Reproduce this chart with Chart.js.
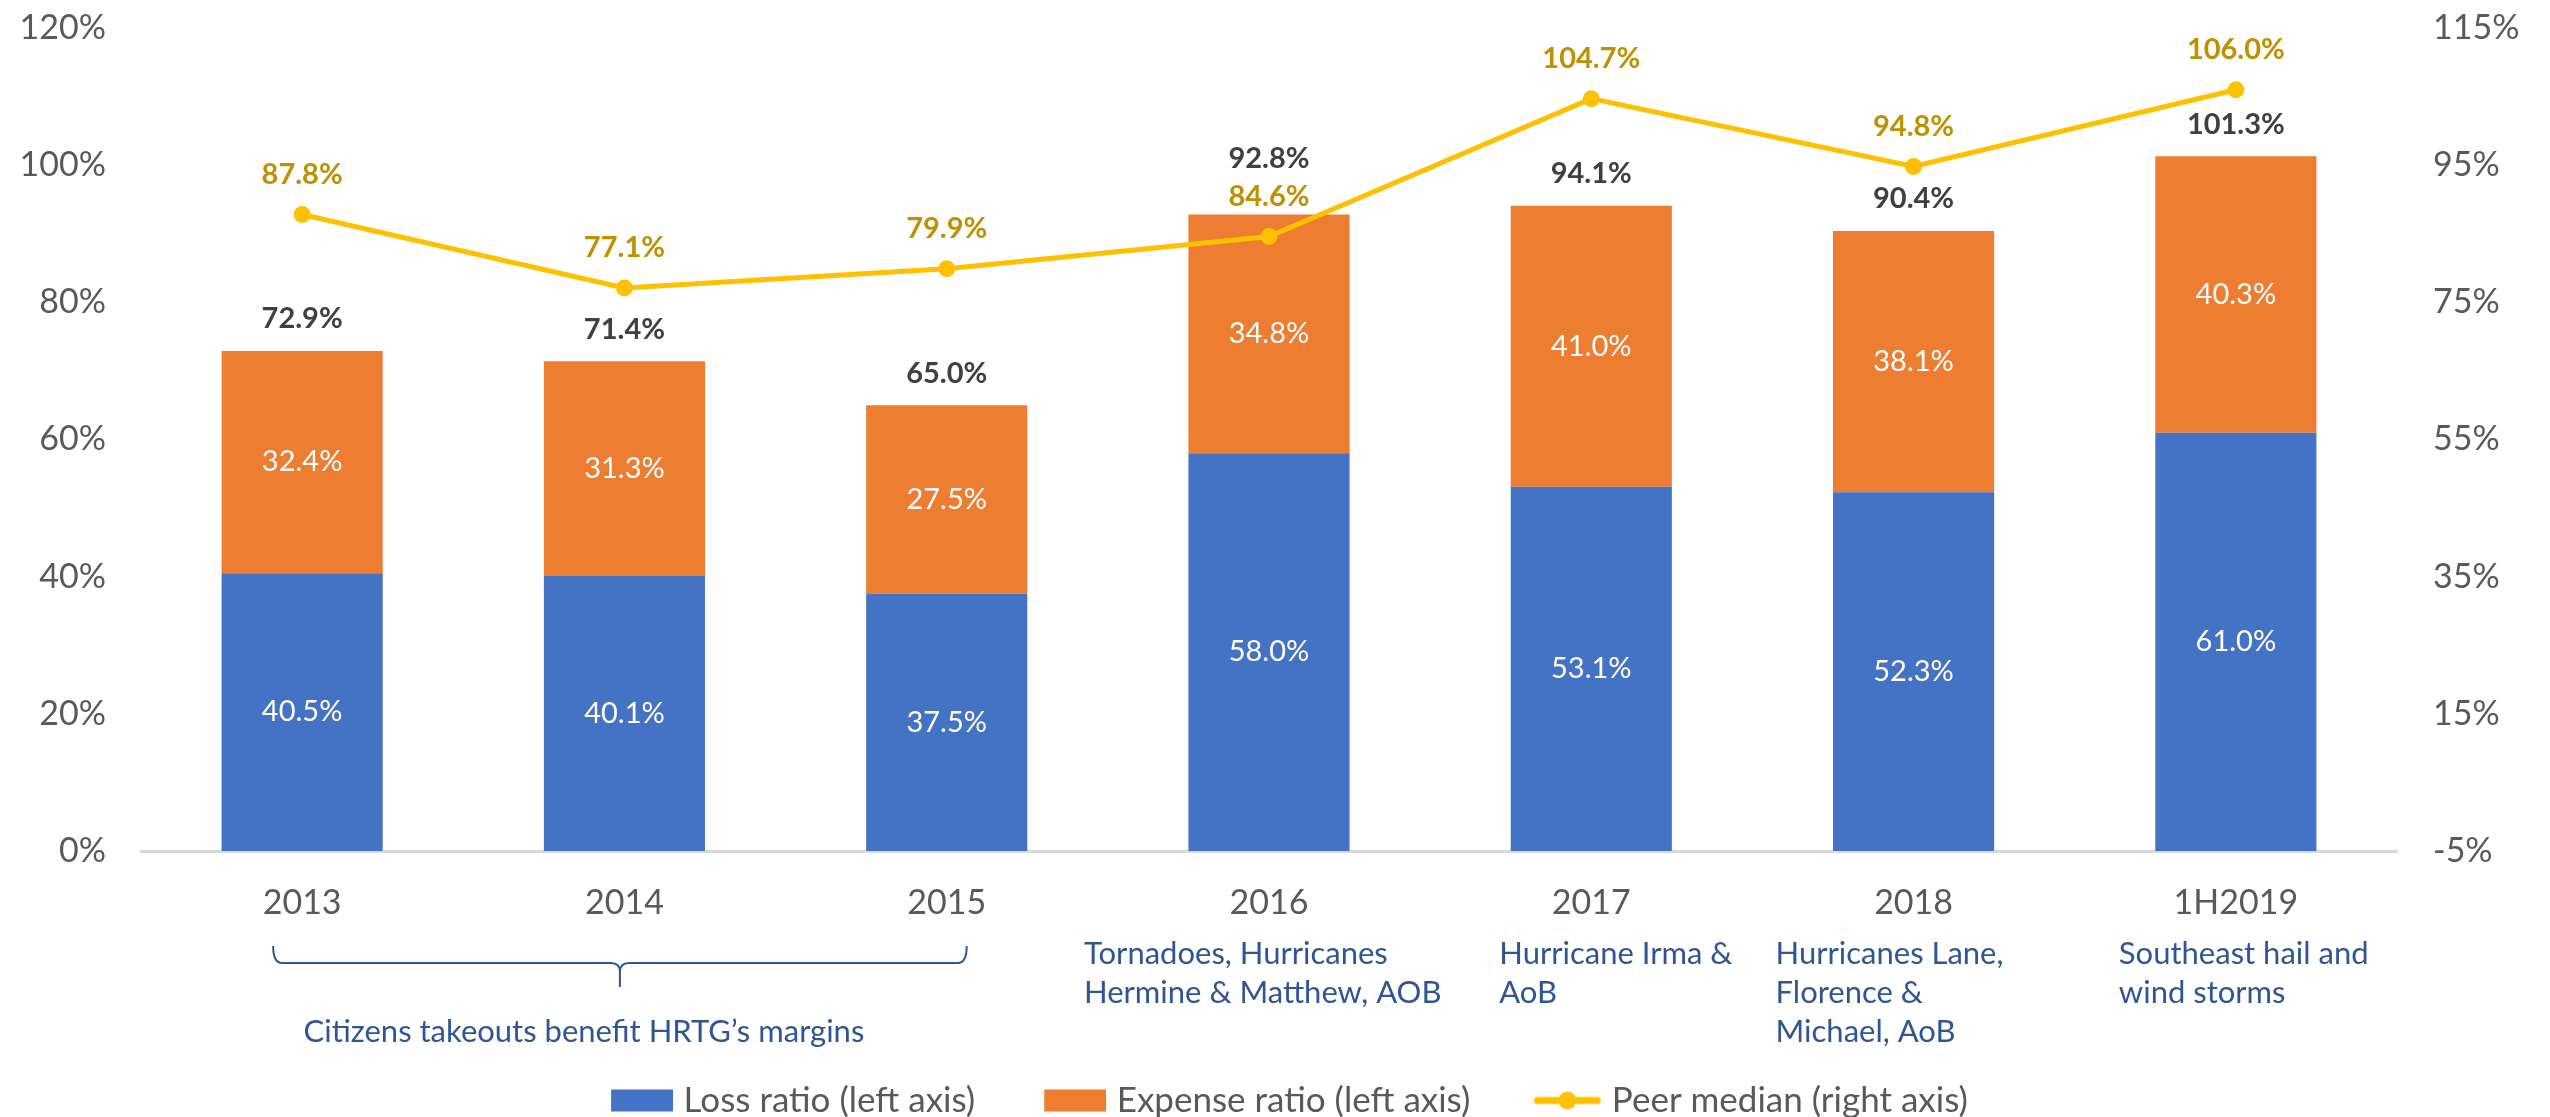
<!DOCTYPE html>
<html>
<head>
<meta charset="utf-8">
<script src="https://cdn.jsdelivr.net/npm/chart.js@4"></script>
<style>
  html, body { margin: 0; padding: 0; background: #ffffff; }
  #c { display: block; }
</style>
</head>
<body>
<canvas id="c" width="2550" height="1117"></canvas>
<script>
// ---- data ----
const categories   = ['2013', '2014', '2015', '2016', '2017', '2018', '1H2019'];
const lossRatio    = [40.5, 40.1, 37.5, 58.0, 53.1, 52.3, 61.0];
const expenseRatio = [32.4, 31.3, 27.5, 34.8, 41.0, 38.1, 40.3];
const totalLabels  = [72.9, 71.4, 65.0, 92.8, 94.1, 90.4, 101.3];
const peerMedian   = [87.8, 77.1, 79.9, 84.6, 104.7, 94.8, 106.0];
const leftTicks    = [0, 20, 40, 60, 80, 100, 120];
const rightTicks   = [-5, 15, 35, 55, 75, 95, 115];
const seriesNames  = ['Loss ratio (left axis)', 'Expense ratio (left axis)', 'Peer median (right axis)'];
const braceText    = 'Citizens takeouts benefit HRTG\u2019s margins';
const eventNotes   = [
  null, null, null,
  ['Tornadoes, Hurricanes', 'Hermine & Matthew, AOB'],
  ['Hurricane Irma &', 'AoB'],
  ['Hurricanes Lane,', 'Florence &', 'Michael, AoB'],
  ['Southeast hail and', 'wind storms']
];

// ---- styling / layout ----
const FONT = 'Lato, "Open Sans", sans-serif';
const BLUE = '#4472C4', ORANGE = '#ED7D31', GOLD = '#FFC000';
const NOTE_COLOR = '#2F5597';
const noteOffsets = [0, 0, 0, -185, -92, -138, -117];
const LEGEND_BOX = 122;
const LEGEND_SHIFT = -19;

function makeMarker(kind, color) {
  const W = LEGEND_BOX + 14, H = 26;
  const cv = document.createElement('canvas');
  cv.width = W; cv.height = H;
  const g = cv.getContext('2d');
  g.fillStyle = color; g.strokeStyle = color;
  if (kind === 'rect') {
    g.fillRect(W - 62, 2, 62, 22);
  } else {
    g.lineWidth = 7; g.lineCap = 'round';
    g.beginPath(); g.moveTo(W - 64, H / 2); g.lineTo(W - 4, H / 2); g.stroke();
    g.beginPath(); g.arc(W - 34, H / 2, 9, 0, Math.PI * 2); g.fill();
  }
  return cv;
}
const markers = [makeMarker('rect', BLUE), makeMarker('rect', ORANGE), makeMarker('line', GOLD)];

const legendShift = {
  id: 'legendShift',
  afterLayout(chart) {
    if (chart.legend) {
      chart.legend.left += LEGEND_SHIFT;
      chart.legend.right += LEGEND_SHIFT;
    }
  }
};

const valueLabels = {
  id: 'valueLabels',
  afterDatasetsDraw(chart) {
    const ctx = chart.ctx;
    ctx.save();
    ctx.textAlign = 'center';
    ctx.textBaseline = 'middle';
    [0, 1].forEach(di => {
      const meta = chart.getDatasetMeta(di);
      const vals = chart.data.datasets[di].data;
      meta.data.forEach((bar, i) => {
        ctx.font = '29px ' + FONT;
        ctx.fillStyle = '#FFFFFF';
        ctx.fillText(vals[i].toFixed(1) + '%', bar.x, (bar.y + bar.base) / 2);
      });
    });
    const lm = chart.getDatasetMeta(2);
    const peerY = [];
    lm.data.forEach((pt, i) => {
      const y = pt.y - 40;
      peerY.push(y);
      ctx.font = 'bold 29px ' + FONT;
      ctx.fillStyle = '#BF9000';
      ctx.fillText(peerMedian[i].toFixed(1) + '%', pt.x, y);
    });
    const om = chart.getDatasetMeta(1);
    om.data.forEach((bar, i) => {
      let y = bar.y - 32;
      if (Math.abs(y - peerY[i]) < 36) y = peerY[i] - 38;
      ctx.font = 'bold 29px ' + FONT;
      ctx.fillStyle = '#404040';
      ctx.fillText(totalLabels[i].toFixed(1) + '%', bar.x, y);
    });
    ctx.restore();
  }
};

const notes = {
  id: 'notes',
  afterDraw(chart) {
    const ctx = chart.ctx;
    const xs = chart.scales.x;
    const b = chart.chartArea.bottom;
    ctx.save();
    const L = xs.getPixelForValue(0) - 29;
    const R = xs.getPixelForValue(2) + 20;
    const M = (L + R) / 2;
    const top = b + 95, mid = b + 112, tip = b + 136, r = 9;
    ctx.strokeStyle = NOTE_COLOR;
    ctx.lineWidth = 2;
    ctx.beginPath();
    ctx.moveTo(L, top);
    ctx.quadraticCurveTo(L, mid, L + r, mid);
    ctx.lineTo(M - r, mid);
    ctx.quadraticCurveTo(M, mid, M, mid + r);
    ctx.lineTo(M, tip);
    ctx.moveTo(M, mid + r);
    ctx.quadraticCurveTo(M, mid, M + r, mid);
    ctx.lineTo(R - r, mid);
    ctx.quadraticCurveTo(R, mid, R, top);
    ctx.stroke();
    ctx.font = '31px ' + FONT;
    ctx.fillStyle = NOTE_COLOR;
    ctx.textAlign = 'center';
    ctx.textBaseline = 'middle';
    ctx.fillText(braceText, M - 36, b + 181);
    ctx.textAlign = 'left';
    eventNotes.forEach((lines, i) => {
      if (!lines) return;
      const x0 = xs.getPixelForValue(i) + noteOffsets[i];
      lines.forEach((t, k) => ctx.fillText(t, x0, b + 103 + k * 39));
    });
    ctx.restore();
  }
};

function noPad(s) { s.paddingTop = 0; s.paddingBottom = 0; }

new Chart(document.getElementById('c'), {
  data: {
    labels: categories,
    datasets: [
      { type: 'bar', label: seriesNames[0], data: lossRatio, backgroundColor: BLUE,
        yAxisID: 'y', stack: 's', order: 2, barPercentage: 0.5, categoryPercentage: 1.0 },
      { type: 'bar', label: seriesNames[1], data: expenseRatio, backgroundColor: ORANGE,
        yAxisID: 'y', stack: 's', order: 2, barPercentage: 0.5, categoryPercentage: 1.0 },
      { type: 'line', label: seriesNames[2], data: peerMedian, yAxisID: 'y1', order: 0,
        borderColor: GOLD, borderWidth: 5, backgroundColor: GOLD,
        pointRadius: 8.5, pointBackgroundColor: GOLD, pointBorderWidth: 0, tension: 0 }
    ]
  },
  options: {
    responsive: false,
    animation: false,
    devicePixelRatio: 1,
    layout: { padding: { top: 28, left: 0, right: 0, bottom: -11 } },
    plugins: {
      tooltip: { enabled: false },
      legend: {
        position: 'bottom',
        labels: {
          usePointStyle: true,
          pointStyleWidth: LEGEND_BOX,
          padding: 2,
          color: '#595959',
          font: { family: FONT, size: 35, lineHeight: 1 },
          generateLabels: () => seriesNames.map((n, i) => ({
            text: n, pointStyle: markers[i], fillStyle: 'transparent',
            strokeStyle: 'transparent', lineWidth: 0, hidden: false, datasetIndex: i,
            fontColor: '#595959'
          }))
        }
      }
    },
    scales: {
      x: {
        stacked: true,
        grid: { display: false, drawTicks: false },
        border: { display: true, color: '#D9D9D9', width: 3 },
        ticks: { color: '#595959', font: { family: FONT, size: 34 }, padding: 32, maxRotation: 0 },
        afterFit: s => { s.height = 230; }
      },
      y: {
        position: 'left',
        stacked: true,
        min: leftTicks[0], max: leftTicks[leftTicks.length - 1],
        grid: { display: false, drawTicks: false },
        border: { display: false },
        ticks: { stepSize: leftTicks[1] - leftTicks[0], color: '#595959',
                 font: { family: FONT, size: 34 }, padding: 35, callback: v => v + '%' },
        afterFit: s => { s.width = 141; noPad(s); }
      },
      y1: {
        position: 'right',
        min: rightTicks[0], max: rightTicks[rightTicks.length - 1],
        grid: { display: false, drawTicks: false },
        border: { display: false },
        ticks: { stepSize: rightTicks[1] - rightTicks[0], color: '#595959',
                 font: { family: FONT, size: 34 }, padding: 36, callback: v => v + '%' },
        afterFit: s => { s.width = 153; noPad(s); }
      }
    }
  },
  plugins: [legendShift, valueLabels, notes]
});
</script>
</body>
</html>
